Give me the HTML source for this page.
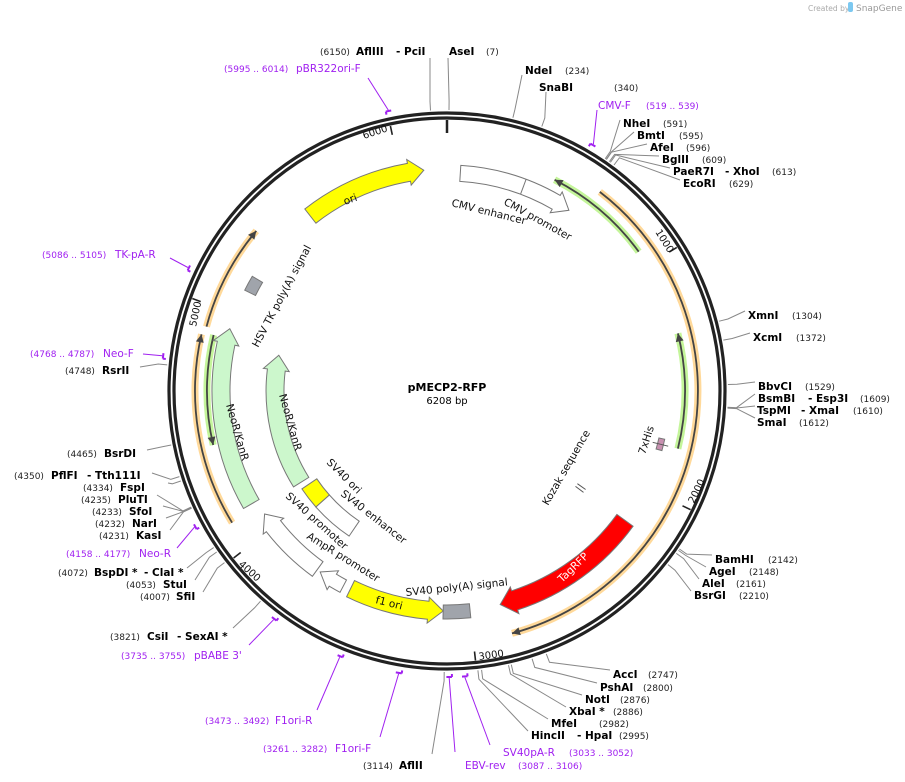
<!DOCTYPE html>
<html><head><meta charset="utf-8">
<style>
html,body{margin:0;padding:0;background:#fff;}
svg{display:block;font-family:"DejaVu Sans","Liberation Sans",sans-serif;}
.e{font-weight:bold;font-size:10.5px;fill:#000;}
.n{font-size:9px;fill:#222;}
.p{font-size:10.5px;fill:#a020f0;}
.pn{font-size:9px;fill:#a020f0;}
.f{font-size:10.5px;fill:#111;}
.t{font-size:10px;fill:#111;}
</style></head>
<body>
<svg id="s" width="905" height="782" viewBox="0 0 905 782" xmlns="http://www.w3.org/2000/svg">
<g id="lines"></g>
<g id="feat"></g>
<circle cx="447" cy="391" r="278" fill="none" stroke="#222" stroke-width="3.2"/>
<circle cx="447" cy="391" r="273" fill="none" stroke="#222" stroke-width="3.2"/>
<g id="ticks"></g>

<text x="808" y="11" font-size="7.5" fill="#aaa">Created by</text>
<rect x="848" y="2" width="5" height="10" rx="2" fill="#7cc8f0"/>
<text x="856" y="11" font-size="9" fill="#999">SnapGene</text>

<text x="447" y="391" text-anchor="middle" font-weight="bold" font-size="11">pMECP2-RFP</text>
<text x="447" y="404" text-anchor="middle" font-size="10">6208 bp</text>

<!-- tick labels -->
<text class="t" transform="translate(364,139) rotate(-18)">6000</text>
<text class="t" transform="translate(655,232) rotate(58)">1000</text>
<text class="t" transform="translate(694,504) rotate(-64)">2000</text>
<text class="t" transform="translate(479,660) rotate(-8)">3000</text>
<text class="t" transform="translate(238,565) rotate(42)">4000</text>
<text class="t" transform="translate(196,327) rotate(-78)">5000</text>

<!-- feature labels -->
<text class="f" transform="translate(345,205) rotate(-20)">ori</text>
<text class="f" transform="translate(451,206) rotate(14)">CMV enhancer</text>
<text class="f" transform="translate(503,204) rotate(29)">CMV promoter</text>
<text class="f" transform="translate(258,348) rotate(-62)">HSV TK poly(A) signal</text>
<text class="f" transform="translate(226,405) rotate(74)">NeoR/KanR</text>
<text class="f" transform="translate(279,395) rotate(74)">NeoR/KanR</text>
<text class="f" transform="translate(326,463) rotate(45)">SV40 ori</text>
<text class="f" transform="translate(340,495) rotate(38)">SV40 enhancer</text>
<text class="f" transform="translate(285,497) rotate(42)">SV40 promoter</text>
<text class="f" transform="translate(306,538) rotate(32)">AmpR promoter</text>
<text class="f" transform="translate(375,603) rotate(14)">f1 ori</text>
<text class="f" transform="translate(406,596) rotate(-6)">SV40 poly(A) signal</text>
<text class="f" transform="translate(548,506) rotate(-60)">Kozak sequence</text>
<text class="f" transform="translate(645,455) rotate(-72)">7xHis</text>
<text transform="translate(562,583) rotate(-44)" font-size="10.5" fill="#fff">TagRFP</text>

<!-- enzyme labels -->
<text y="55"><tspan class="n" x="320">(6150)</tspan><tspan class="e" x="356">AflIII</tspan><tspan class="e" x="396">- PciI</tspan><tspan class="e" x="449">AseI</tspan><tspan class="n" x="486">(7)</tspan></text>
<text y="74"><tspan class="e" x="525">NdeI</tspan><tspan class="n" x="565">(234)</tspan></text>
<text y="91"><tspan class="e" x="539">SnaBI</tspan><tspan class="n" x="614">(340)</tspan></text>
<text y="109"><tspan class="p" x="598">CMV-F</tspan><tspan class="pn" x="646">(519 .. 539)</tspan></text>
<text y="127"><tspan class="e" x="623">NheI</tspan><tspan class="n" x="663">(591)</tspan></text>
<text y="139"><tspan class="e" x="637">BmtI</tspan><tspan class="n" x="679">(595)</tspan></text>
<text y="151"><tspan class="e" x="650">AfeI</tspan><tspan class="n" x="686">(596)</tspan></text>
<text y="163"><tspan class="e" x="662">BglII</tspan><tspan class="n" x="702">(609)</tspan></text>
<text y="175"><tspan class="e" x="673">PaeR7I</tspan><tspan class="e" x="725">- XhoI</tspan><tspan class="n" x="772">(613)</tspan></text>
<text y="187"><tspan class="e" x="683">EcoRI</tspan><tspan class="n" x="729">(629)</tspan></text>
<text y="319"><tspan class="e" x="748">XmnI</tspan><tspan class="n" x="792">(1304)</tspan></text>
<text y="341"><tspan class="e" x="753">XcmI</tspan><tspan class="n" x="796">(1372)</tspan></text>
<text y="390"><tspan class="e" x="758">BbvCI</tspan><tspan class="n" x="805">(1529)</tspan></text>
<text y="402"><tspan class="e" x="758">BsmBI</tspan><tspan class="e" x="808">- Esp3I</tspan><tspan class="n" x="860">(1609)</tspan></text>
<text y="414"><tspan class="e" x="757">TspMI</tspan><tspan class="e" x="801">- XmaI</tspan><tspan class="n" x="853">(1610)</tspan></text>
<text y="426"><tspan class="e" x="757">SmaI</tspan><tspan class="n" x="799">(1612)</tspan></text>
<text y="563"><tspan class="e" x="715">BamHI</tspan><tspan class="n" x="768">(2142)</tspan></text>
<text y="575"><tspan class="e" x="709">AgeI</tspan><tspan class="n" x="749">(2148)</tspan></text>
<text y="587"><tspan class="e" x="702">AleI</tspan><tspan class="n" x="736">(2161)</tspan></text>
<text y="599"><tspan class="e" x="694">BsrGI</tspan><tspan class="n" x="739">(2210)</tspan></text>
<text y="678"><tspan class="e" x="613">AccI</tspan><tspan class="n" x="648">(2747)</tspan></text>
<text y="691"><tspan class="e" x="600">PshAI</tspan><tspan class="n" x="643">(2800)</tspan></text>
<text y="703"><tspan class="e" x="585">NotI</tspan><tspan class="n" x="620">(2876)</tspan></text>
<text y="715"><tspan class="e" x="569">XbaI *</tspan><tspan class="n" x="613">(2886)</tspan></text>
<text y="727"><tspan class="e" x="551">MfeI</tspan><tspan class="n" x="599">(2982)</tspan></text>
<text y="739"><tspan class="e" x="531">HincII</tspan><tspan class="e" x="577">- HpaI</tspan><tspan class="n" x="619">(2995)</tspan></text>
<text y="756"><tspan class="p" x="503">SV40pA-R</tspan><tspan class="pn" x="569">(3033 .. 3052)</tspan></text>
<text y="769"><tspan class="p" x="465">EBV-rev</tspan><tspan class="pn" x="518">(3087 .. 3106)</tspan></text>
<text y="769"><tspan class="n" x="363">(3114)</tspan><tspan class="e" x="399">AflII</tspan></text>
<text y="752"><tspan class="pn" x="263">(3261 .. 3282)</tspan><tspan class="p" x="335">F1ori-F</tspan></text>
<text y="724"><tspan class="pn" x="205">(3473 .. 3492)</tspan><tspan class="p" x="275">F1ori-R</tspan></text>
<text y="659"><tspan class="pn" x="121">(3735 .. 3755)</tspan><tspan class="p" x="194">pBABE 3'</tspan></text>
<text y="640"><tspan class="n" x="110">(3821)</tspan><tspan class="e" x="147">CsiI</tspan><tspan class="e" x="177">- SexAI *</tspan></text>
<text y="600"><tspan class="n" x="140">(4007)</tspan><tspan class="e" x="176">SfiI</tspan></text>
<text y="588"><tspan class="n" x="126">(4053)</tspan><tspan class="e" x="163">StuI</tspan></text>
<text y="576"><tspan class="n" x="58">(4072)</tspan><tspan class="e" x="94">BspDI *</tspan><tspan class="e" x="144">- ClaI *</tspan></text>
<text y="557"><tspan class="pn" x="66">(4158 .. 4177)</tspan><tspan class="p" x="139">Neo-R</tspan></text>
<text y="539"><tspan class="n" x="99">(4231)</tspan><tspan class="e" x="136">KasI</tspan></text>
<text y="527"><tspan class="n" x="95">(4232)</tspan><tspan class="e" x="132">NarI</tspan></text>
<text y="515"><tspan class="n" x="92">(4233)</tspan><tspan class="e" x="129">SfoI</tspan></text>
<text y="503"><tspan class="n" x="81">(4235)</tspan><tspan class="e" x="118">PluTI</tspan></text>
<text y="491"><tspan class="n" x="83">(4334)</tspan><tspan class="e" x="120">FspI</tspan></text>
<text y="479"><tspan class="n" x="14">(4350)</tspan><tspan class="e" x="51">PflFI</tspan><tspan class="e" x="87">- Tth111I</tspan></text>
<text y="457"><tspan class="n" x="67">(4465)</tspan><tspan class="e" x="104">BsrDI</tspan></text>
<text y="374"><tspan class="n" x="65">(4748)</tspan><tspan class="e" x="102">RsrII</tspan></text>
<text y="357"><tspan class="pn" x="30">(4768 .. 4787)</tspan><tspan class="p" x="103">Neo-F</tspan></text>
<text y="258"><tspan class="pn" x="42">(5086 .. 5105)</tspan><tspan class="p" x="115">TK-pA-R</tspan></text>
<text y="72"><tspan class="pn" x="224">(5995 .. 6014)</tspan><tspan class="p" x="296">pBR322ori-F</tspan></text>
</svg>
<script>
const cx=447,cy=391,NS="http://www.w3.org/2000/svg";
const D=bp=>bp*360/6208;
function P(r,a){const t=a*Math.PI/180;return [cx+r*Math.sin(t),cy-r*Math.cos(t)];}
function f(p){return p[0].toFixed(1)+" "+p[1].toFixed(1);}
function add(g,tag,at){const e=document.createElementNS(NS,tag);for(const k in at)e.setAttribute(k,at[k]);document.getElementById(g).appendChild(e);return e;}
function arcD(r,a1,a2,sw){return `A${r} ${r} 0 ${Math.abs(a2-a1)>180?1:0} ${sw} ${f(P(r,a2))}`;}
function band(r,w,a1,a2){const o=r+w/2,i=r-w/2;return `M${f(P(o,a1))} ${arcD(o,a1,a2,1)} L${f(P(i,a2))} ${arcD(i,a2,a1,0)} Z`;}
function arrow(r,w,a1,a2,dir){const o=r+w/2,i=r-w/2,h=15/r*180/Math.PI,e=4;
 if(dir>0){const b=a2-h;return `M${f(P(o,a1))} ${arcD(o,a1,b,1)} L${f(P(o+e,b))} L${f(P(r,a2))} L${f(P(i-e,b))} L${f(P(i,b))} ${arcD(i,b,a1,0)} Z`;}
 else{const b=a1+h;return `M${f(P(o,a2))} ${arcD(o,a2,b,0)} L${f(P(o+e,b))} L${f(P(r,a1))} L${f(P(i-e,b))} L${f(P(i,b))} ${arcD(i,b,a2,1)} Z`;}}
function thin(r,a1,a2,dir,halo){
 add("feat","path",{d:`M${f(P(r,a1))} ${arcD(r,a1,a2,1)}`,fill:"none",stroke:halo,"stroke-width":7,"stroke-linecap":"butt"});
 add("feat","path",{d:`M${f(P(r,a1))} ${arcD(r,a1,a2,1)}`,fill:"none",stroke:"#444","stroke-width":1.8});
 const h=8/r*180/Math.PI;let tip,b;if(dir>0){tip=a2;b=a2-h}else{tip=a1;b=a1+h}
 add("feat","path",{d:`M${f(P(r+4,b))} L${f(P(r,tip))} L${f(P(r-4,b))} Z`,fill:"#444"});}
thin(251,37.5,165,1,"#ffd99a");
thin(237,27,54,-1,"#c4f59a");
thin(238,76,104,-1,"#c4f59a");
thin(252,238.5,283,1,"#ffd99a");
thin(240,257,283.5,-1,"#c4f59a");
thin(249,285,310,1,"#ffd99a");
const S={stroke:"#777","stroke-width":1};
add("feat","path",Object.assign({d:arrow(222,18,322,354,1),fill:"#ffff00"},S));
add("feat","path",Object.assign({d:arrow(218,16,3.5,34,1),fill:"#fff"},S));
add("feat","path",{d:`M${f(P(210,20.5))} L${f(P(226,20.5))}`,stroke:"#777"});
add("feat","path",Object.assign({d:arrow(220,20,126,166,1),fill:"#ff0000"},S));
add("feat","path",Object.assign({d:band(221,14,174,181),fill:"#a0a4ab"},S));
add("feat","path",Object.assign({d:arrow(220,18,181,206,-1),fill:"#ffff00"},S));
add("feat","path",Object.assign({d:arrow(221,14,208,215,1),fill:"#fff"},S));
add("feat","path",Object.assign({d:arrow(220,18,216,236,1),fill:"#fff"},S));
add("feat","path",Object.assign({d:band(166,18,228.5,236),fill:"#ffff00"},S));
add("feat","path",Object.assign({d:band(166,18,214,228.5),fill:"#fff"},S));
add("feat","path",Object.assign({d:arrow(172,18,238,282,1),fill:"#ccf7cc"},S));
add("feat","path",Object.assign({d:arrow(226,18,240,286,1),fill:"#ccf7cc"},S));
add("feat","path",Object.assign({d:band(220,12,296.5,300.5),fill:"#a0a4ab"},S));
add("feat","path",Object.assign({d:band(220,6,102.5,105.5),fill:"#c890b0"},S));
add("feat","path",{d:`M${f(P(212,104))} L${f(P(228,104))}`,stroke:"#555"});
[-1.5,1.5].forEach(o=>{add("feat","path",{d:`M${f(P(160,126+o*0.4))} L${f(P(170,126+o*0.4))}`,stroke:"#555"});});
add("ticks","path",{d:`M${f(P(271,0))} L${f(P(258,0))}`,stroke:"#222","stroke-width":2.5});
[1000,2000,3000,4000,5000,6000].forEach(b=>add("ticks","path",{d:`M${f(P(271,D(b)))} L${f(P(262,D(b)))}`,stroke:"#222","stroke-width":1.6}));
const E=[[6150,430,58],[7,448,58],[234,522,75],[340,546,92],[591,620,120],[595,634,132],[596,647,144],[609,659,156],[613,670,168],[629,680,180],
[1304,745,311],[1372,750,333],[1529,755,382],[1609,755,394],[1610,755,406],[1612,755,418],
[2142,712,555],[2148,706,567],[2161,699,579],[2210,691,591],
[2747,610,670],[2800,597,683],[2876,582,695],[2886,566,707],[2982,548,719],[2995,528,731],[3114,432,754],
[3821,233,628],[4007,203,592],[4053,195,580],[4072,187,568],[4231,170,530],[4232,166,518],[4233,163,506],[4235,157,495],[4334,168,483],[4350,152,473],[4465,147,450],[4748,140,367]];
E.forEach(([b,x,y])=>{const a=D(b);add("lines","path",{d:`M${f(P(281,a))} L${f(P(290,a))} L${x} ${y}`,fill:"none",stroke:"#888","stroke-width":1});});
const Pr=[[5995,6014,368,78],[519,539,597,110],[5086,5105,170,258],[4768,4787,143,354],[4158,4177,177,548],[3735,3755,249,645],[3473,3492,317,710],[3261,3282,380,737],[3087,3106,455,752],[3033,3052,490,745]];
Pr.forEach(([s,e,x,y])=>{const a1=D(s),a2=D(e),r=286;
 add("lines","path",{d:`M${f(P(r,a1))} ${arcD(r,a1,a2,1)} M${f(P(r,a1))} L${f(P(r-3,a1))}`,fill:"none",stroke:"#a020f0","stroke-width":2});
 const m=(a1+a2)/2;add("lines","path",{d:`M${f(P(r+1,m))} L${x} ${y}`,stroke:"#a020f0","stroke-width":1});});
</script>
</body></html>
